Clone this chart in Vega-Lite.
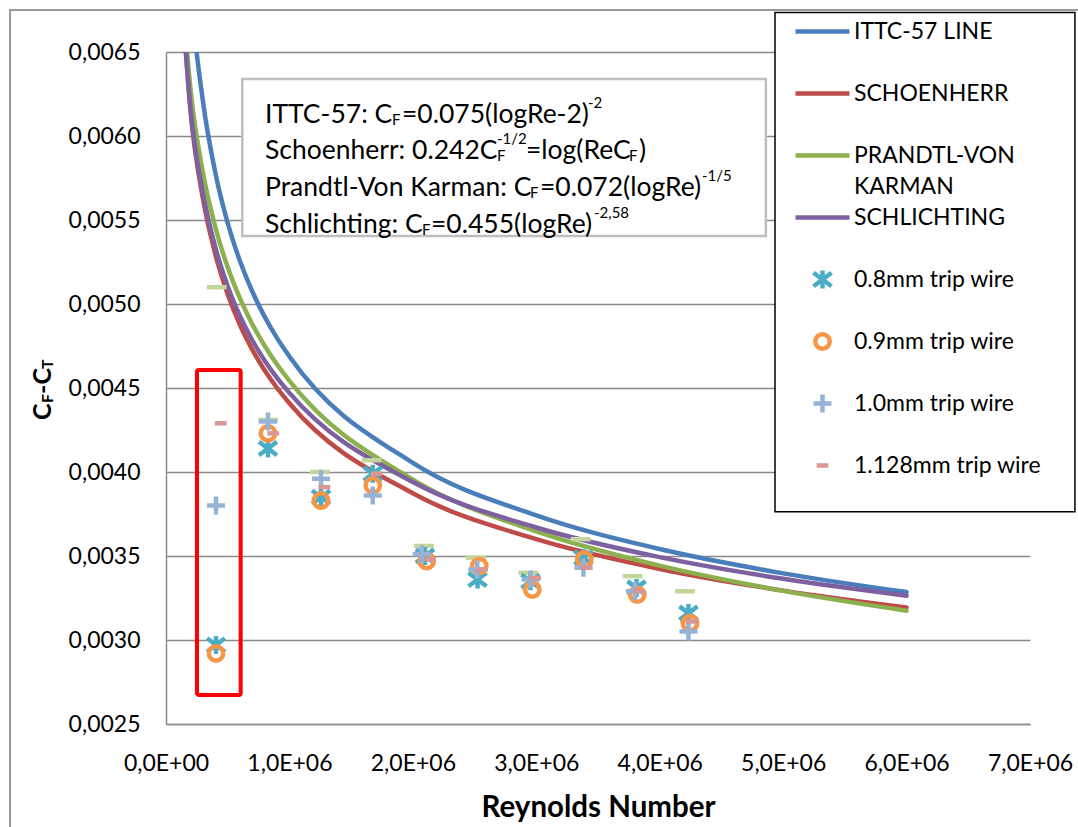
{
  "$schema": "https://vega.github.io/schema/vega-lite/v6.json",
  "width": 864,
  "height": 672,
  "autosize": {"type": "none"},
  "padding": {"left": 166, "top": 52, "right": 48, "bottom": 103},
  "background": "white",
  "config": {
    "font": "Lato",
    "view": {"stroke": null},
    "axis": {"labelFont": "Lato", "labelFontSize": 23, "labelColor": "black", "ticks": false, "domainColor": "#8A8A8A", "domainWidth": 1.5, "gridColor": "#8A8A8A", "gridWidth": 1.5, "labelFlush": false, "labelOverlap": false},
    "axisX": {"grid": false, "labelPadding": 28},
    "axisY": {"grid": true, "labelPadding": 26}
  },
  "datasets": {
    "curves": [
      {"series": "ITTC-57 LINE", "Re": 100000, "Cf": 0.0083333},
      {"series": "ITTC-57 LINE", "Re": 200000, "Cf": 0.0068828},
      {"series": "ITTC-57 LINE", "Re": 300000, "Cf": 0.0062032},
      {"series": "ITTC-57 LINE", "Re": 400000, "Cf": 0.0057804},
      {"series": "ITTC-57 LINE", "Re": 500000, "Cf": 0.0054815},
      {"series": "ITTC-57 LINE", "Re": 600000, "Cf": 0.0052542},
      {"series": "ITTC-57 LINE", "Re": 700000, "Cf": 0.0050728},
      {"series": "ITTC-57 LINE", "Re": 800000, "Cf": 0.0049231},
      {"series": "ITTC-57 LINE", "Re": 900000, "Cf": 0.0047966},
      {"series": "ITTC-57 LINE", "Re": 1000000, "Cf": 0.0046875},
      {"series": "ITTC-57 LINE", "Re": 2000000, "Cf": 0.0040543},
      {"series": "ITTC-57 LINE", "Re": 3000000, "Cf": 0.0037417},
      {"series": "ITTC-57 LINE", "Re": 4000000, "Cf": 0.0035413},
      {"series": "ITTC-57 LINE", "Re": 5000000, "Cf": 0.0033967},
      {"series": "ITTC-57 LINE", "Re": 6000000, "Cf": 0.0032851},
      {"series": "SCHOENHERR", "Re": 100000, "Cf": 0.007181},
      {"series": "SCHOENHERR", "Re": 200000, "Cf": 0.006138},
      {"series": "SCHOENHERR", "Re": 300000, "Cf": 0.005624},
      {"series": "SCHOENHERR", "Re": 400000, "Cf": 0.005295},
      {"series": "SCHOENHERR", "Re": 500000, "Cf": 0.005058},
      {"series": "SCHOENHERR", "Re": 600000, "Cf": 0.004874},
      {"series": "SCHOENHERR", "Re": 700000, "Cf": 0.004727},
      {"series": "SCHOENHERR", "Re": 800000, "Cf": 0.004604},
      {"series": "SCHOENHERR", "Re": 900000, "Cf": 0.0045},
      {"series": "SCHOENHERR", "Re": 1000000, "Cf": 0.004409},
      {"series": "SCHOENHERR", "Re": 2000000, "Cf": 0.003873},
      {"series": "SCHOENHERR", "Re": 3000000, "Cf": 0.0036},
      {"series": "SCHOENHERR", "Re": 4000000, "Cf": 0.003423},
      {"series": "SCHOENHERR", "Re": 5000000, "Cf": 0.003294},
      {"series": "SCHOENHERR", "Re": 6000000, "Cf": 0.003194},
      {"series": "PRANDTL-VON KARMAN", "Re": 100000, "Cf": 0.0072},
      {"series": "PRANDTL-VON KARMAN", "Re": 200000, "Cf": 0.006268},
      {"series": "PRANDTL-VON KARMAN", "Re": 300000, "Cf": 0.0057797},
      {"series": "PRANDTL-VON KARMAN", "Re": 400000, "Cf": 0.0054566},
      {"series": "PRANDTL-VON KARMAN", "Re": 500000, "Cf": 0.0052184},
      {"series": "PRANDTL-VON KARMAN", "Re": 600000, "Cf": 0.0050315},
      {"series": "PRANDTL-VON KARMAN", "Re": 700000, "Cf": 0.0048789},
      {"series": "PRANDTL-VON KARMAN", "Re": 800000, "Cf": 0.0047502},
      {"series": "PRANDTL-VON KARMAN", "Re": 900000, "Cf": 0.0046397},
      {"series": "PRANDTL-VON KARMAN", "Re": 1000000, "Cf": 0.0045429},
      {"series": "PRANDTL-VON KARMAN", "Re": 2000000, "Cf": 0.0039548},
      {"series": "PRANDTL-VON KARMAN", "Re": 3000000, "Cf": 0.0036467},
      {"series": "PRANDTL-VON KARMAN", "Re": 4000000, "Cf": 0.0034429},
      {"series": "PRANDTL-VON KARMAN", "Re": 5000000, "Cf": 0.0032926},
      {"series": "PRANDTL-VON KARMAN", "Re": 6000000, "Cf": 0.0031747},
      {"series": "SCHLICHTING", "Re": 100000, "Cf": 0.007156},
      {"series": "SCHLICHTING", "Re": 200000, "Cf": 0.006154},
      {"series": "SCHLICHTING", "Re": 300000, "Cf": 0.0056565},
      {"series": "SCHLICHTING", "Re": 400000, "Cf": 0.0053367},
      {"series": "SCHLICHTING", "Re": 500000, "Cf": 0.0051057},
      {"series": "SCHLICHTING", "Re": 600000, "Cf": 0.0049271},
      {"series": "SCHLICHTING", "Re": 700000, "Cf": 0.0047829},
      {"series": "SCHLICHTING", "Re": 800000, "Cf": 0.0046626},
      {"series": "SCHLICHTING", "Re": 900000, "Cf": 0.0045599},
      {"series": "SCHLICHTING", "Re": 1000000, "Cf": 0.0044708},
      {"series": "SCHLICHTING", "Re": 2000000, "Cf": 0.0039403},
      {"series": "SCHLICHTING", "Re": 3000000, "Cf": 0.0036698},
      {"series": "SCHLICHTING", "Re": 4000000, "Cf": 0.0034933},
      {"series": "SCHLICHTING", "Re": 5000000, "Cf": 0.0033644},
      {"series": "SCHLICHTING", "Re": 6000000, "Cf": 0.003264}
    ],
    "tests": [
      {"series": "other trip wire", "Re": 411000, "Cf": 0.0051},
      {"series": "other trip wire", "Re": 829000, "Cf": 0.00431},
      {"series": "other trip wire", "Re": 1248000, "Cf": 0.004},
      {"series": "other trip wire", "Re": 1667000, "Cf": 0.00407},
      {"series": "other trip wire", "Re": 2090000, "Cf": 0.00356},
      {"series": "other trip wire", "Re": 2511000, "Cf": 0.00349},
      {"series": "other trip wire", "Re": 2937000, "Cf": 0.0034},
      {"series": "other trip wire", "Re": 3360000, "Cf": 0.0036},
      {"series": "other trip wire", "Re": 3780000, "Cf": 0.00338},
      {"series": "other trip wire", "Re": 4205000, "Cf": 0.00329},
      {"series": "0.8mm trip wire", "Re": 405000, "Cf": 0.00297},
      {"series": "0.8mm trip wire", "Re": 826000, "Cf": 0.00414},
      {"series": "0.8mm trip wire", "Re": 1256000, "Cf": 0.00385},
      {"series": "0.8mm trip wire", "Re": 1675000, "Cf": 0.00399},
      {"series": "0.8mm trip wire", "Re": 2098000, "Cf": 0.0035},
      {"series": "0.8mm trip wire", "Re": 2524000, "Cf": 0.00336},
      {"series": "0.8mm trip wire", "Re": 2953000, "Cf": 0.00335},
      {"series": "0.8mm trip wire", "Re": 3382000, "Cf": 0.00349},
      {"series": "0.8mm trip wire", "Re": 3812000, "Cf": 0.00331},
      {"series": "0.8mm trip wire", "Re": 4233000, "Cf": 0.00316},
      {"series": "0.9mm trip wire", "Re": 405000, "Cf": 0.00292},
      {"series": "0.9mm trip wire", "Re": 826000, "Cf": 0.00423},
      {"series": "0.9mm trip wire", "Re": 1256000, "Cf": 0.00383},
      {"series": "0.9mm trip wire", "Re": 1675000, "Cf": 0.00392},
      {"series": "0.9mm trip wire", "Re": 2112000, "Cf": 0.00347},
      {"series": "0.9mm trip wire", "Re": 2538000, "Cf": 0.00344},
      {"series": "0.9mm trip wire", "Re": 2968000, "Cf": 0.0033},
      {"series": "0.9mm trip wire", "Re": 3389000, "Cf": 0.00348},
      {"series": "0.9mm trip wire", "Re": 3818000, "Cf": 0.00327},
      {"series": "0.9mm trip wire", "Re": 4245000, "Cf": 0.0031},
      {"series": "1.0mm trip wire", "Re": 405000, "Cf": 0.0038},
      {"series": "1.0mm trip wire", "Re": 826000, "Cf": 0.0043},
      {"series": "1.0mm trip wire", "Re": 1256000, "Cf": 0.00396},
      {"series": "1.0mm trip wire", "Re": 1675000, "Cf": 0.00386},
      {"series": "1.0mm trip wire", "Re": 2072000, "Cf": 0.00351},
      {"series": "1.0mm trip wire", "Re": 2522000, "Cf": 0.00342},
      {"series": "1.0mm trip wire", "Re": 2955000, "Cf": 0.00336},
      {"series": "1.0mm trip wire", "Re": 3382000, "Cf": 0.00343},
      {"series": "1.0mm trip wire", "Re": 3800000, "Cf": 0.00329},
      {"series": "1.0mm trip wire", "Re": 4233000, "Cf": 0.00305},
      {"series": "1.128mm trip wire", "Re": 443000, "Cf": 0.00429},
      {"series": "1.128mm trip wire", "Re": 869000, "Cf": 0.00423},
      {"series": "1.128mm trip wire", "Re": 1283000, "Cf": 0.00391},
      {"series": "1.128mm trip wire", "Re": 1707000, "Cf": 0.00399},
      {"series": "1.128mm trip wire", "Re": 2139000, "Cf": 0.00348},
      {"series": "1.128mm trip wire", "Re": 2558000, "Cf": 0.00342},
      {"series": "1.128mm trip wire", "Re": 2990000, "Cf": 0.00337},
      {"series": "1.128mm trip wire", "Re": 3408000, "Cf": 0.00343},
      {"series": "1.128mm trip wire", "Re": 3835000, "Cf": 0.00329},
      {"series": "1.128mm trip wire", "Re": 4259000, "Cf": 0.00311}
    ]
  },
  "layer": [
    {
      "data": {"values": [{}]},
      "mark": {"type": "rect", "fill": null, "stroke": "#9A9A9A", "strokeWidth": 2},
      "encoding": {"x": {"datum": -1264000}, "x2": {"datum": 7700000}, "y": {"datum": 0.00675}, "y2": {"datum": 0.0017}}
    },
    {
      "data": {"values": [{}]},
      "mark": {"type": "rect", "fill": "white", "stroke": "#BFBFBF", "strokeWidth": 2.5},
      "encoding": {"x": {"datum": 618000}, "x2": {"datum": 4860000}, "y": {"datum": 0.006339}, "y2": {"datum": 0.005405}}
    },
    {
      "data": {"values": [{}]},
      "mark": {"type": "rect", "fill": "white", "stroke": "black", "strokeWidth": 1.5},
      "encoding": {"x": {"datum": 4934000}, "x2": {"datum": 7364000}, "y": {"datum": 0.006735}, "y2": {"datum": 0.003764}}
    },
    {
      "data": {"name": "curves"},
      "mark": {"type": "line", "strokeWidth": 4.5, "clip": true, "interpolate": "monotone", "strokeCap": "round"},
      "encoding": {
        "x": {"field": "Re", "type": "quantitative", "scale": {"domain": [0, 7000000], "nice": false, "zero": false},
              "axis": {"values": [0, 1000000, 2000000, 3000000, 4000000, 5000000, 6000000, 7000000], "labelExpr": "datum.value === 0 ? '0,0E+00' : (datum.value / 1000000) + ',0E+06'", "title": "Reynolds Number", "titleFont": "Lato", "titleFontSize": 29.5, "titleFontWeight": "bold", "titleColor": "black", "titlePadding": 18}},
        "y": {"field": "Cf", "type": "quantitative", "scale": {"domain": [0.0025, 0.0065], "nice": false, "zero": false},
              "axis": {"values": [0.0025, 0.003, 0.0035, 0.004, 0.0045, 0.005, 0.0055, 0.006, 0.0065], "labelExpr": "replace(format(datum.value, '.4f'), '.', ',')", "title": null}},
        "color": {
          "field": "series", "type": "nominal",
          "scale": {"domain": ["ITTC-57 LINE", "SCHOENHERR", "PRANDTL-VON KARMAN", "SCHLICHTING", "0.8mm trip wire", "0.9mm trip wire", "1.0mm trip wire", "1.128mm trip wire", "other trip wire"],
                    "range": ["#4A7EBB", "#BE4B48", "#8DB04E", "#7D60A0", "#4BACC6", "#F79646", "#95B3D7", "#D99694", "#C3D69B"]},
          "legend": {
            "title": null, "orient": "none", "legendX": 645, "legendY": -32,
            "values": ["ITTC-57 LINE", "SCHOENHERR", "PRANDTL-VON KARMAN", "SCHLICHTING", "0.8mm trip wire", "0.9mm trip wire", "1.0mm trip wire", "1.128mm trip wire"],
            "symbolSize": 324, "labelFont": "Lato", "labelFontSize": 23, "labelColor": "black", "labelLimit": 400, "labelOffset": 20,
            "rowPadding": 0, "gridAlign": "all", "padding": 0, "symbolOpacity": 1,
            "labelExpr": "datum.label === 'PRANDTL-VON KARMAN' ? ['PRANDTL-VON', 'KARMAN'] : datum.label",
            "encode": {
              "symbols": {"update": {
                "shape": {"signal": "scale('shape', datum.value)"},
                "stroke": {"signal": "scale('color', datum.value)"},
                "fill": {"value": "transparent"},
                "strokeWidth": {"signal": "scale('strokeWidth', datum.value)"},
                "size": {"value": 324},
                "opacity": {"value": 1}
              }},
              "labels": {"update": {"lineHeight": {"value": 31}}}
            }
          }
        }
      }
    },
    {
      "data": {"name": "tests"},
      "mark": {"type": "point", "filled": false, "size": 324, "opacity": 1},
      "encoding": {
        "x": {"field": "Re", "type": "quantitative"},
        "y": {"field": "Cf", "type": "quantitative", "axis": {"values": [0.0025, 0.003, 0.0035, 0.004, 0.0045, 0.005, 0.0055, 0.006, 0.0065], "labelExpr": "replace(format(datum.value, '.4f'), '.', ',')", "title": null}},
        "color": {"field": "series", "type": "nominal"},
        "shape": {
          "field": "series", "type": "nominal",
          "scale": {"domain": ["ITTC-57 LINE", "SCHOENHERR", "PRANDTL-VON KARMAN", "SCHLICHTING", "0.8mm trip wire", "0.9mm trip wire", "1.0mm trip wire", "1.128mm trip wire", "other trip wire"],
                    "range": ["M-3,0L3,0", "M-3,0L3,0", "M-3,0L3,0", "M-3,0L3,0", "M0,-1L0,1M-1,-0.75L1,0.75M-1,0.75L1,-0.75", "M0.8,0A0.8,0.8,0,1,1,-0.8,0A0.8,0.8,0,1,1,0.8,0Z", "M-1,0L1,0M0,-1L0,1", "M-0.65,0L0.65,0", "M-1.1,0L1.1,0"]},
          "legend": {
            "title": null, "orient": "none", "legendX": 645, "legendY": -32,
            "values": ["ITTC-57 LINE", "SCHOENHERR", "PRANDTL-VON KARMAN", "SCHLICHTING", "0.8mm trip wire", "0.9mm trip wire", "1.0mm trip wire", "1.128mm trip wire"],
            "symbolSize": 324, "labelFont": "Lato", "labelFontSize": 23, "labelColor": "black", "labelLimit": 400, "labelOffset": 20,
            "rowPadding": 0, "gridAlign": "all", "padding": 0, "symbolOpacity": 1,
            "labelExpr": "datum.label === 'PRANDTL-VON KARMAN' ? ['PRANDTL-VON', 'KARMAN'] : datum.label",
            "encode": {
              "symbols": {"update": {
                "shape": {"signal": "scale('shape', datum.value)"},
                "stroke": {"signal": "scale('color', datum.value)"},
                "fill": {"value": "transparent"},
                "strokeWidth": {"signal": "scale('strokeWidth', datum.value)"},
                "size": {"value": 324},
                "opacity": {"value": 1}
              }},
              "labels": {"update": {"lineHeight": {"value": 31}}}
            }
          }
        },
        "strokeWidth": {
          "field": "series", "type": "ordinal",
          "scale": {"domain": ["ITTC-57 LINE", "SCHOENHERR", "PRANDTL-VON KARMAN", "SCHLICHTING", "0.8mm trip wire", "0.9mm trip wire", "1.0mm trip wire", "1.128mm trip wire", "other trip wire"],
                    "range": [4.5, 4.5, 4.5, 4.5, 1.8, 1.8, 1.8, 5, 5]},
          "legend": null
        }
      }
    },
    {
      "data": {"values": [{}]},
      "mark": {"type": "rect", "fill": null, "stroke": "#FF0000", "strokeWidth": 4, "cornerRadius": 2},
      "encoding": {"x": {"datum": 251000}, "x2": {"datum": 605000}, "y": {"datum": 0.004607}, "y2": {"datum": 0.002673}}
    },
    {"data": {"values": [{}]}, "mark": {"type": "text", "align": "left", "fontSize": 26.5, "color": "black", "dx": 0}, "encoding": {"x": {"datum": 802000}, "y": {"datum": 0.006125}, "text": {"value": "ITTC-57: C"}}},
    {"data": {"values": [{}]}, "mark": {"type": "text", "align": "left", "fontSize": 15, "color": "black", "dx": 127, "dy": 5}, "encoding": {"x": {"datum": 802000}, "y": {"datum": 0.006125}, "text": {"value": "F"}}},
    {"data": {"values": [{}]}, "mark": {"type": "text", "align": "left", "fontSize": 26.5, "color": "black", "dx": 137}, "encoding": {"x": {"datum": 802000}, "y": {"datum": 0.006125}, "text": {"value": "=0.075(logRe-2)"}}},
    {"data": {"values": [{}]}, "mark": {"type": "text", "align": "left", "fontSize": 15, "color": "black", "dx": 323, "dy": -12}, "encoding": {"x": {"datum": 802000}, "y": {"datum": 0.006125}, "text": {"value": "-2"}}},
    {"data": {"values": [{}]}, "mark": {"type": "text", "align": "left", "fontSize": 26.5, "color": "black", "dx": 0}, "encoding": {"x": {"datum": 802000}, "y": {"datum": 0.005908}, "text": {"value": "Schoenherr: 0.242C"}}},
    {"data": {"values": [{}]}, "mark": {"type": "text", "align": "left", "fontSize": 15, "color": "black", "dx": 232, "dy": 5}, "encoding": {"x": {"datum": 802000}, "y": {"datum": 0.005908}, "text": {"value": "F"}}},
    {"data": {"values": [{}]}, "mark": {"type": "text", "align": "left", "fontSize": 15, "color": "black", "dx": 232, "dy": -12}, "encoding": {"x": {"datum": 802000}, "y": {"datum": 0.005908}, "text": {"value": "-1/2"}}},
    {"data": {"values": [{}]}, "mark": {"type": "text", "align": "left", "fontSize": 26.5, "color": "black", "dx": 261}, "encoding": {"x": {"datum": 802000}, "y": {"datum": 0.005908}, "text": {"value": "=log(ReC"}}},
    {"data": {"values": [{}]}, "mark": {"type": "text", "align": "left", "fontSize": 15, "color": "black", "dx": 364, "dy": 5}, "encoding": {"x": {"datum": 802000}, "y": {"datum": 0.005908}, "text": {"value": "F"}}},
    {"data": {"values": [{}]}, "mark": {"type": "text", "align": "left", "fontSize": 26.5, "color": "black", "dx": 374}, "encoding": {"x": {"datum": 802000}, "y": {"datum": 0.005908}, "text": {"value": ")"}}},
    {"data": {"values": [{}]}, "mark": {"type": "text", "align": "left", "fontSize": 26.5, "color": "black", "dx": 0}, "encoding": {"x": {"datum": 802000}, "y": {"datum": 0.00569}, "text": {"value": "Prandtl-Von Karman: C"}}},
    {"data": {"values": [{}]}, "mark": {"type": "text", "align": "left", "fontSize": 15, "color": "black", "dx": 265, "dy": 5}, "encoding": {"x": {"datum": 802000}, "y": {"datum": 0.00569}, "text": {"value": "F"}}},
    {"data": {"values": [{}]}, "mark": {"type": "text", "align": "left", "fontSize": 26.5, "color": "black", "dx": 275}, "encoding": {"x": {"datum": 802000}, "y": {"datum": 0.00569}, "text": {"value": "=0.072(logRe)"}}},
    {"data": {"values": [{}]}, "mark": {"type": "text", "align": "left", "fontSize": 15, "color": "black", "dx": 437, "dy": -12}, "encoding": {"x": {"datum": 802000}, "y": {"datum": 0.00569}, "text": {"value": "-1/5"}}},
    {"data": {"values": [{}]}, "mark": {"type": "text", "align": "left", "fontSize": 26.5, "color": "black", "dx": 0}, "encoding": {"x": {"datum": 802000}, "y": {"datum": 0.005473}, "text": {"value": "Schlichting: C"}}},
    {"data": {"values": [{}]}, "mark": {"type": "text", "align": "left", "fontSize": 15, "color": "black", "dx": 157, "dy": 5}, "encoding": {"x": {"datum": 802000}, "y": {"datum": 0.005473}, "text": {"value": "F"}}},
    {"data": {"values": [{}]}, "mark": {"type": "text", "align": "left", "fontSize": 26.5, "color": "black", "dx": 166}, "encoding": {"x": {"datum": 802000}, "y": {"datum": 0.005473}, "text": {"value": "=0.455(logRe)"}}},
    {"data": {"values": [{}]}, "mark": {"type": "text", "align": "left", "fontSize": 15, "color": "black", "dx": 329, "dy": -12}, "encoding": {"x": {"datum": 802000}, "y": {"datum": 0.005473}, "text": {"value": "-2,58"}}},
    {"data": {"values": [{}]}, "mark": {"type": "text", "align": "left", "angle": 270, "fontSize": 25, "fontWeight": "bold", "color": "black", "dx": 0}, "encoding": {"x": {"datum": -996500}, "y": {"datum": 0.00431}, "text": {"value": "C"}}},
    {"data": {"values": [{}]}, "mark": {"type": "text", "align": "left", "angle": 270, "fontSize": 16, "fontWeight": "bold", "color": "black", "dx": 17, "dy": 5}, "encoding": {"x": {"datum": -996500}, "y": {"datum": 0.00431}, "text": {"value": "F"}}},
    {"data": {"values": [{}]}, "mark": {"type": "text", "align": "left", "angle": 270, "fontSize": 25, "fontWeight": "bold", "color": "black", "dx": 26}, "encoding": {"x": {"datum": -996500}, "y": {"datum": 0.00431}, "text": {"value": "-C"}}},
    {"data": {"values": [{}]}, "mark": {"type": "text", "align": "left", "angle": 270, "fontSize": 16, "fontWeight": "bold", "color": "black", "dx": 51, "dy": 5}, "encoding": {"x": {"datum": -996500}, "y": {"datum": 0.00431}, "text": {"value": "T"}}}
  ]
}
